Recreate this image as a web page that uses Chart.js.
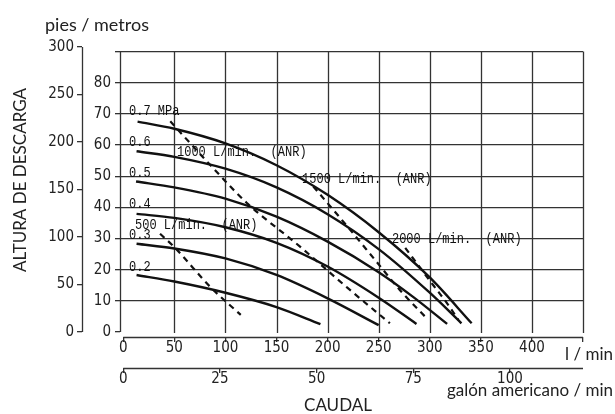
<!DOCTYPE html>
<html>
<head>
<meta charset="utf-8">
<script src="https://cdn.jsdelivr.net/npm/chart.js@4.4.1/dist/chart.umd.min.js"></script>
<style>
  html, body { margin: 0; padding: 0; background: #fff; }
</style>
</head>
<body>
<canvas id="pumpChart" width="615" height="414"></canvas>
<script>
// pressure curves: flow (l/min) -> discharge head (m)
const flow07 = [14, 50, 100, 150, 200, 250, 300, 341];
const head07 = [67.5, 65.2, 60.5, 53.5, 44, 32, 17.5, 2.8];
const flow06 = [13, 50, 100, 150, 200, 250, 300, 331];
const head06 = [58, 56.2, 52.4, 46.4, 37.8, 26.6, 12.6, 2.8];
const flow05 = [12.5, 50, 100, 150, 200, 250, 284, 317];
const head05 = [48.3, 46.4, 42.8, 37, 29, 19.2, 11.2, 2.6];
const flow04 = [13, 50, 100, 150, 200, 250, 287];
const head04 = [37.9, 36.6, 33.6, 28.6, 21, 11, 2.6];
const flow03 = [13, 50, 100, 150, 200, 250];
const head03 = [28.3, 26.8, 23.6, 18.3, 10.8, 2.2];
const flow02 = [13, 50, 100, 150, 193];
const head02 = [18.3, 16.2, 12.6, 8, 2.5];

// air consumption lines (dashed)
const air500X = [36, 51, 85, 115];
const air500Y = [31.5, 26.9, 14.5, 5.5];
const air1000X = [46, 82, 121, 173, 219, 261];
const air1000Y = [67.6, 54.7, 41.4, 27.4, 14.3, 2.8];
const air1500X = [186, 219, 248, 272, 297];
const air1500Y = [46.7, 34, 22.5, 13, 4.4];
const air2000X = [276, 297, 307, 317, 328];
const air2000Y = [27, 17.8, 13.5, 9.2, 3.9];

// axis ticks
const flowTicks = [0, 50, 100, 150, 200, 250, 300, 350, 400, 450];
const galTicks = [0, 25, 50, 75, 100];
const meterTicks = [0, 10, 20, 30, 40, 50, 60, 70, 80, 90];
const feetTicks = [0, 50, 100, 150, 200, 250, 300];

// labels on the plot
const pressureNames = ['0.7 MPa', '0.6', '0.5', '0.4', '0.3', '0.2'];
const pressureLabelHead = [69.7, 59.7, 49.7, 39.7, 29.7, 19.7];
const airNames = ['500 L/min.  (ANR)', '1000 L/min.  (ANR)', '1500 L/min.  (ANR)', '2000 L/min.  (ANR)'];
const airLabelFlow = [11.5, 52.6, 175, 263];
const airLabelHead = [33.1, 56.6, 47.9, 28.6];

const M_PER_FT = 0.3048;
const L_PER_GAL = 3.78541;
const X_MIN = -3.2, X_MAX = 450;
const Y_MIN = -1.604, Y_MAX = 91.44;

const ink = '#111';
const gridColor = '#333';
const tickFont = { family: "'Liberation Sans Narrow', 'DejaVu Sans Condensed', sans-serif", size: 15, lineHeight: 1 };

function pts(xs, ys) {
  return xs.map((v, i) => ({ x: v, y: ys[i] }));
}

function solid(xs, ys) {
  return {
    data: pts(xs, ys), showLine: true, borderColor: ink, borderWidth: 2.4,
    pointRadius: 0, cubicInterpolationMode: 'monotone'
  };
}

function dashed(xs, ys) {
  return {
    data: pts(xs, ys), showLine: true, borderColor: ink, borderWidth: 2.2,
    borderDash: [6, 5], pointRadius: 0, cubicInterpolationMode: 'monotone'
  };
}

// ------------------------------------------------------------
// grid, axis lines and texts
// ------------------------------------------------------------
const extras = {
  id: 'extras',
  beforeDatasetsDraw(chart) {
    const { ctx } = chart;
    const { x, y, yFt, xGal } = chart.scales;
    const line = (x1, y1, x2, y2) => {
      ctx.beginPath(); ctx.moveTo(x1, y1); ctx.lineTo(x2, y2); ctx.stroke();
    };
    const snap = v => Math.round(v) + 0.5;
    ctx.save();
    ctx.strokeStyle = gridColor;
    ctx.lineWidth = 1.3;
    const top = y.getPixelForValue(90);
    const bot = y.getPixelForValue(0);
    flowTicks.slice(1).forEach(v => {
      const px = snap(x.getPixelForValue(v));
      line(px, top, px, bot + 1);
    });
    // metre axis / left border
    const mx = snap(y.right);
    line(mx, top, mx, bot);
    // feet axis
    const fx = snap(yFt.right);
    line(fx, yFt.getPixelForValue(300), fx, yFt.getPixelForValue(0));
    // l/min axis
    const ly = snap(x.top);
    line(x.getPixelForValue(0), ly, x.getPixelForValue(450), ly);
    // gallon axis
    const gy = snap(xGal.top);
    line(xGal.getPixelForValue(0), gy, xGal.getPixelForValue(450 / L_PER_GAL), gy);
    ctx.restore();
  },
  afterDraw(chart) {
    const { ctx } = chart;
    const { x, y } = chart.scales;
    ctx.save();
    ctx.fillStyle = '#222';
    ctx.textBaseline = 'middle';
    ctx.textAlign = 'left';
    ctx.font = "18px Lato, 'Open Sans', sans-serif";
    ctx.fillText('pies / metros', 45, 25);
    ctx.font = "17px Lato, 'Open Sans', sans-serif";
    ctx.textAlign = 'right';
    ctx.fillText('l / min', 613, 355);
    ctx.fillText('galón americano / min', 613, 391);
    ctx.textAlign = 'center';
    ctx.fillText('CAUDAL', 338, 406);
    ctx.save();
    ctx.translate(21, 180);
    ctx.rotate(-Math.PI / 2);
    ctx.fillText('ALTURA DE DESCARGA', 0, 0);
    ctx.restore();

    // curve labels
    ctx.fillStyle = ink;
    ctx.font = "15px 'Liberation Mono', 'DejaVu Sans Mono', monospace";
    ctx.textAlign = 'left';
    ctx.textBaseline = 'alphabetic';
    const put = (t, fx, hy) => {
      const w = ctx.measureText(t).width * 0.8;
      ctx.fillText(t, x.getPixelForValue(fx), y.getPixelForValue(hy), w);
    };
    pressureNames.forEach((t, i) => put(t, 5.6, pressureLabelHead[i]));
    airNames.forEach((t, i) => put(t, airLabelFlow[i], airLabelHead[i]));
    ctx.restore();
  }
};

new Chart(document.getElementById('pumpChart'), {
  type: 'scatter',
  data: {
    datasets: [
      solid(flow07, head07), solid(flow06, head06), solid(flow05, head05),
      solid(flow04, head04), solid(flow03, head03), solid(flow02, head02),
      dashed(air500X, air500Y), dashed(air1000X, air1000Y),
      dashed(air1500X, air1500Y), dashed(air2000X, air2000Y)
    ]
  },
  options: {
    responsive: false,
    animation: false,
    layout: { padding: { top: 47, right: 32, bottom: 0, left: 0 } },
    plugins: { legend: { display: false }, tooltip: { enabled: false } },
    scales: {
      x: {
        type: 'linear', axis: 'x', position: 'bottom', weight: 0,
        min: X_MIN, max: X_MAX,
        afterBuildTicks: s => { s.ticks = flowTicks.map(v => ({ value: v })); },
        afterFit: s => { s.height = 31; },
        border: { display: false },
        grid: { drawOnChartArea: false, tickLength: 5, color: gridColor, lineWidth: 1.3 },
        ticks: {
          autoSkip: false, maxRotation: 0, padding: -1, font: tickFont, color: '#222',
          callback: v => (v === 450 ? '' : v)
        }
      },
      xGal: {
        type: 'linear', axis: 'x', position: 'bottom', weight: 1,
        min: X_MIN / L_PER_GAL, max: X_MAX / L_PER_GAL,
        afterBuildTicks: s => { s.ticks = galTicks.map(v => ({ value: v })); },
        afterFit: s => { s.height = 46; },
        border: { display: false },
        grid: { drawOnChartArea: false, tickLength: 5, color: gridColor, lineWidth: 1.3 },
        ticks: { autoSkip: false, maxRotation: 0, padding: -1, font: tickFont, color: '#222' }
      },
      y: {
        type: 'linear', axis: 'y', position: 'left', weight: 0,
        min: Y_MIN, max: Y_MAX,
        afterBuildTicks: s => { s.ticks = meterTicks.map(v => ({ value: v })); },
        afterFit: s => { s.width = 38; },
        border: { display: false },
        grid: {
          tickLength: 5, lineWidth: 1.3, tickColor: gridColor,
          color: c => (c.tick && c.tick.value === 0 ? 'rgba(0,0,0,0)' : gridColor)
        },
        ticks: { padding: 4, font: tickFont, color: '#222', callback: v => (v === 90 ? '' : v) }
      },
      yFt: {
        type: 'linear', axis: 'y', position: 'left', weight: 1,
        min: Y_MIN / M_PER_FT, max: Y_MAX / M_PER_FT,
        afterBuildTicks: s => { s.ticks = feetTicks.map(v => ({ value: v })); },
        afterFit: s => { s.width = 82; },
        border: { display: false },
        grid: { drawOnChartArea: false, tickLength: 5, color: gridColor, lineWidth: 1.3 },
        ticks: { padding: 3, font: tickFont, color: '#222' }
      }
    }
  },
  plugins: [extras]
});
</script>
</body>
</html>
